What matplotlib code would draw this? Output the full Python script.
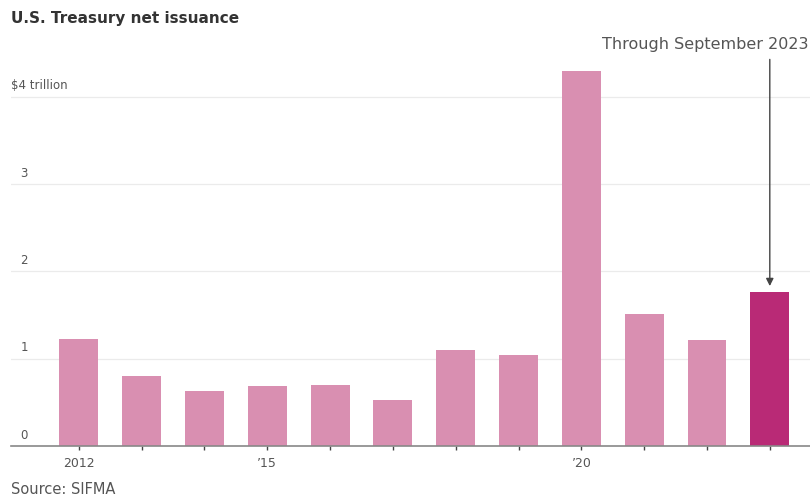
import numpy as np
import matplotlib.pyplot as plt

years = np.arange(2012, 2024)
issuance = [1.22, 0.80, 0.63, 0.69, 0.70, 0.53, 1.10, 1.04, 4.29, 1.51, 1.21, 1.76]
tick_labels = {2012: "2012", 2015: "\u201915", 2020: "\u201920"}
y_ticks = [0, 1, 2, 3]

pink = "#D98FB1"
magenta = "#B92A76"
text_col = "#555555"

fig = plt.figure(figsize=(8.1, 4.95), dpi=100)
ax = fig.add_axes([11/810, 49/495, 799/810, 4.4*87.3/495])

colors = [pink]*(len(years)-1) + [magenta]
ax.bar(years, issuance, width=0.62, color=colors, zorder=2)

ax.set_xlim(2010.92, 2023.64)
ax.set_ylim(0, 4.4)

# gridlines + y labels sitting above them
for v in y_ticks + [4]:
    if v > 0:
        ax.axhline(v, color="#EBEBEB", lw=0.9, zorder=1)
for v in y_ticks:
    ax.text(2011.07, v + 0.05, str(v), color=text_col, fontsize=8.5,
            ha="left", va="bottom")
ax.text(2010.92, 4.05, "$4 trillion", color=text_col, fontsize=8.5,
        ha="left", va="bottom")

for s in ["top", "right", "left"]:
    ax.spines[s].set_visible(False)
ax.spines["bottom"].set_color("#888888")
ax.spines["bottom"].set_linewidth(1.2)

ax.set_yticks([])
ax.set_xticks(years)
ax.set_xticklabels([tick_labels.get(y, "") for y in years])
ax.tick_params(axis="x", length=3, width=1, color="#444444",
               labelcolor=text_col, labelsize=9, pad=5)

# annotation arrow for the partial year
ax.annotate("", xy=(2023, issuance[-1] + 0.04), xytext=(2023, 4.46),
            arrowprops=dict(arrowstyle="-|>", color="#444444", lw=1,
                            mutation_scale=11),
            annotation_clip=False)
fig.text(808/810, 1 - 44/495, "Through September 2023", color=text_col,
         fontsize=11.5, ha="right", va="center")

fig.text(11/810, 1 - 19/495, "U.S. Treasury net issuance", color="#333333",
         fontsize=11, fontweight="bold", ha="left", va="center")
fig.text(11/810, 1 - 489/495, "Source: SIFMA", color=text_col,
         fontsize=10.5, ha="left", va="center")

fig.savefig("out.png", dpi=100)
